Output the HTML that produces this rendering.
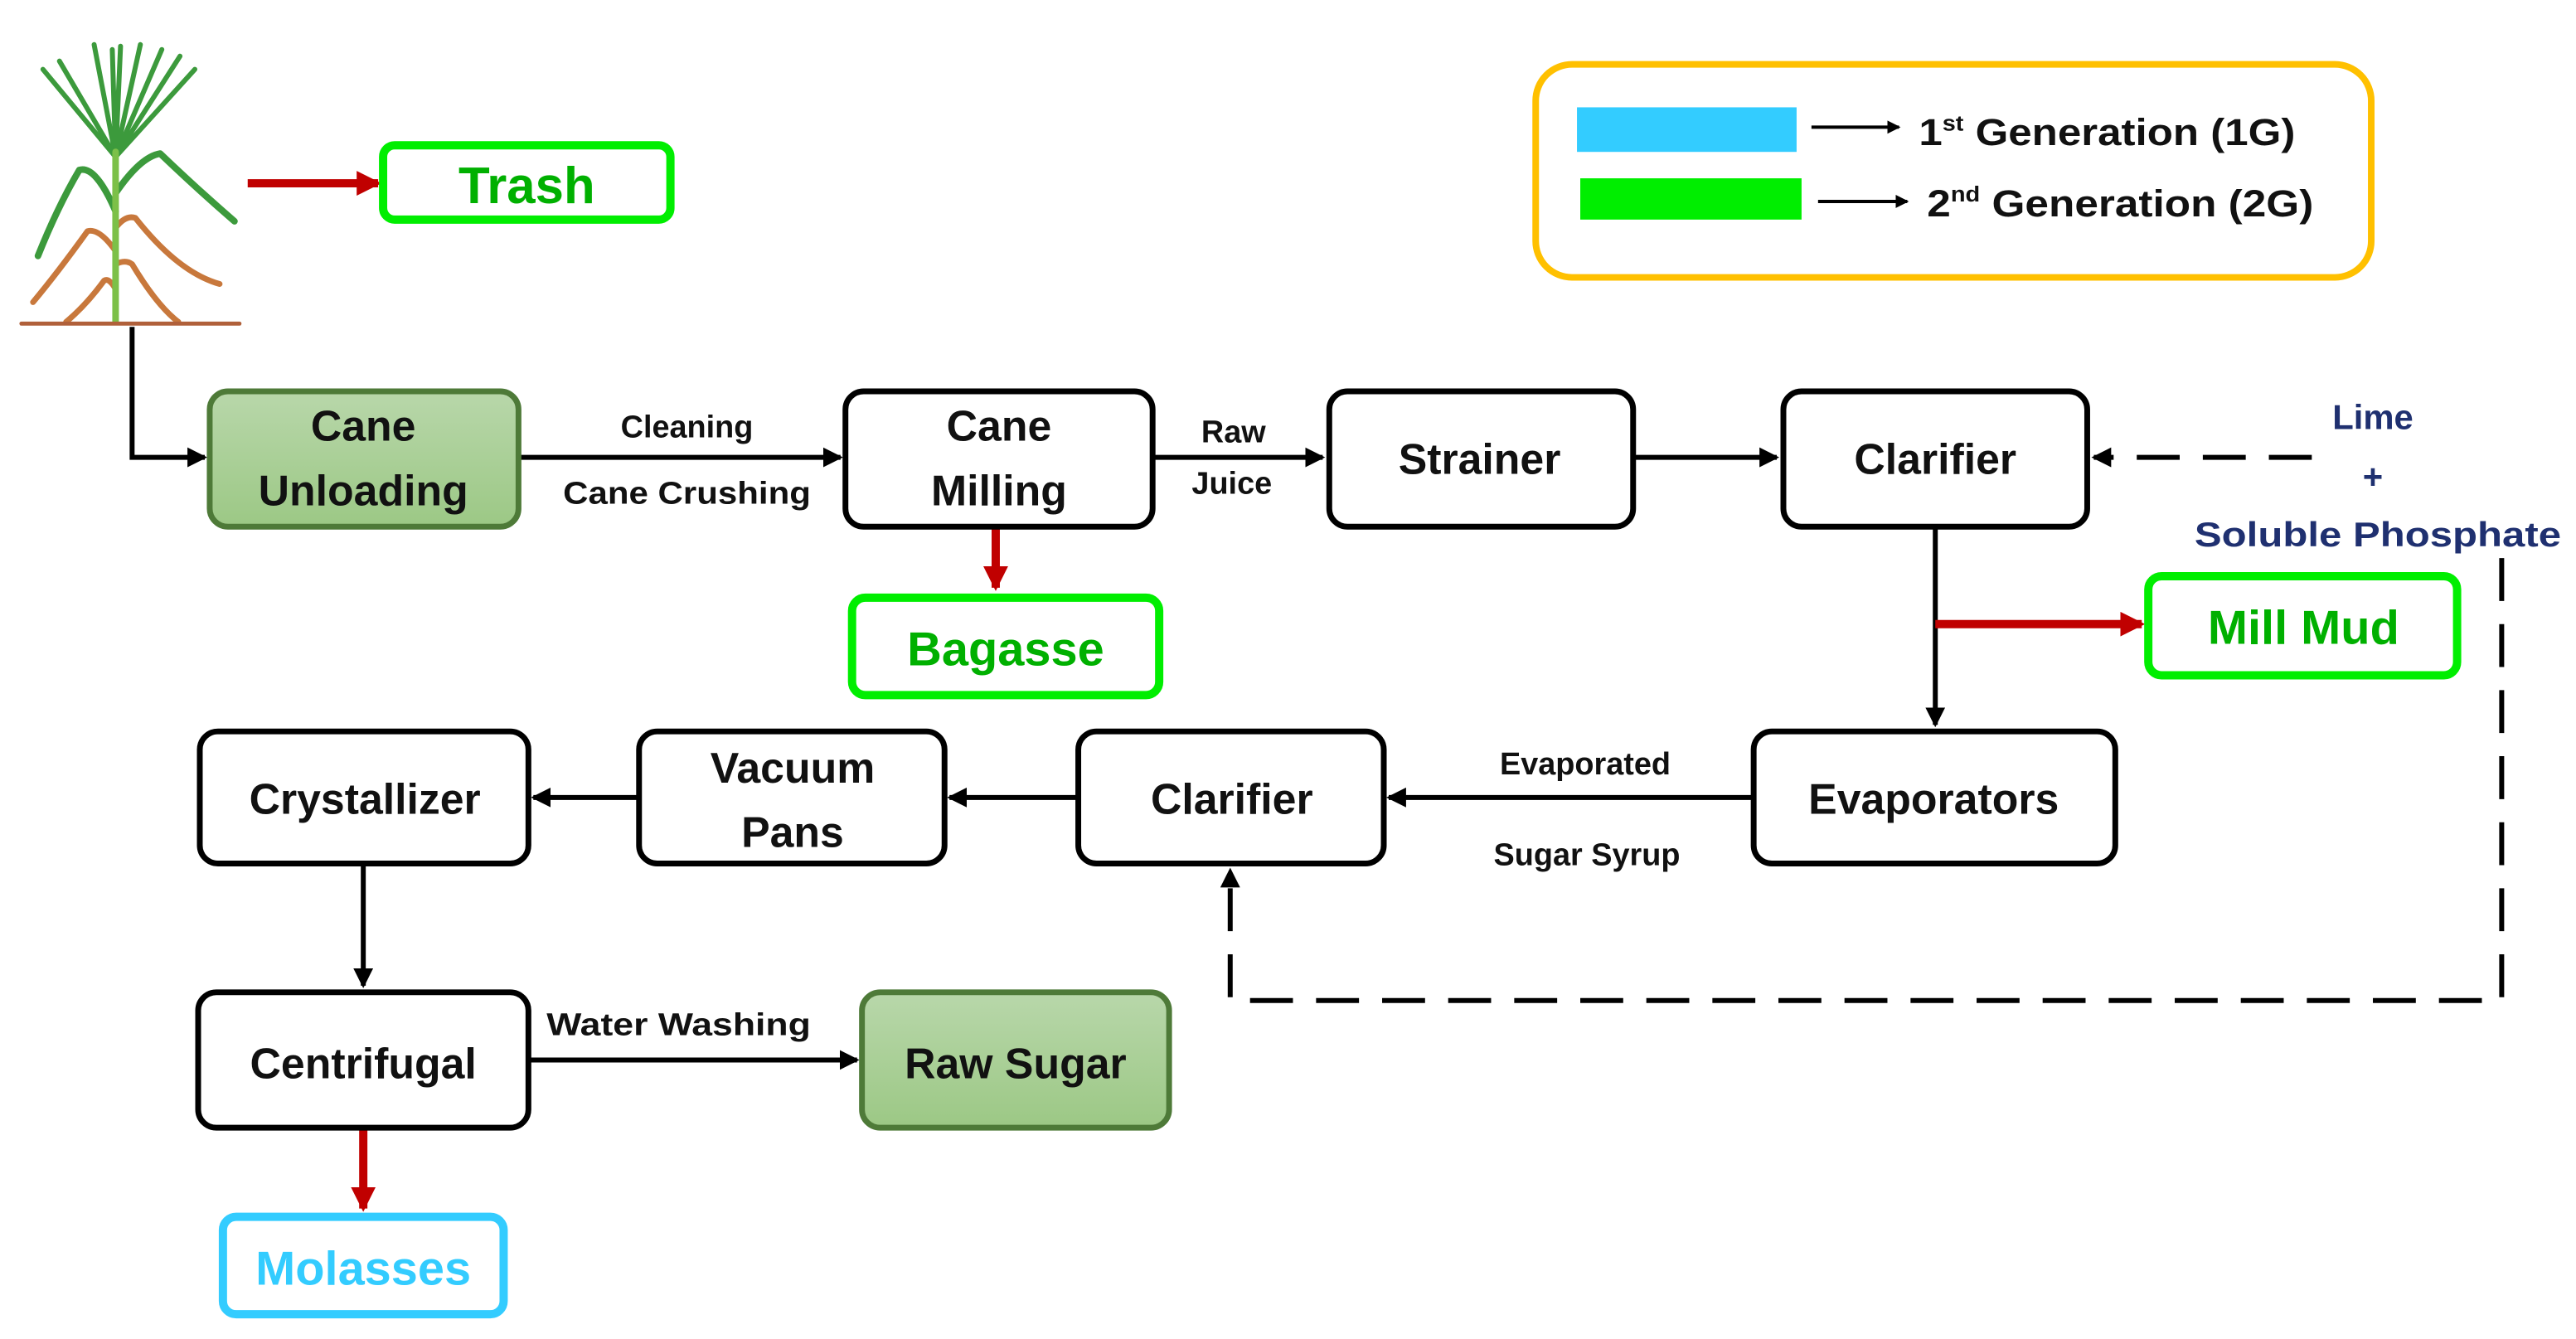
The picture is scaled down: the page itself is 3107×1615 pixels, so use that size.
<!DOCTYPE html>
<html><head><meta charset="utf-8"><style>
html,body{margin:0;padding:0;background:#fff;width:3107px;height:1615px;overflow:hidden}
svg{display:block}
text{font-family:"Liberation Sans",sans-serif;font-weight:bold}
</style></head><body>
<svg width="3107" height="1615" viewBox="0 0 1560 811" preserveAspectRatio="none" xmlns="http://www.w3.org/2000/svg">
<defs>
<marker id="ab" markerWidth="4" markerHeight="4" refX="3.5" refY="2" orient="auto" markerUnits="strokeWidth"><path d="M0,0 L4,2 L0,4 Z" fill="#000"/></marker>
<marker id="ar" markerWidth="3" markerHeight="3" refX="2.6" refY="1.5" orient="auto" markerUnits="strokeWidth"><path d="M0,0 L3,1.5 L0,3 Z" fill="#c00000"/></marker>
<linearGradient id="gg" x1="0" y1="0" x2="0" y2="1"><stop offset="0" stop-color="#b8d7aa"/><stop offset="1" stop-color="#9cc885"/></linearGradient>
</defs>

<!-- plant -->
<g fill="none" stroke-linecap="round" stroke-linejoin="round">
<g stroke="#3c9a3c" stroke-width="3">
<path d="M70,95 L26,42"/><path d="M70,95 L36,37"/><path d="M70,95 L57,27"/><path d="M70,95 L68,30"/><path d="M70,95 L73,28"/><path d="M70,95 L85,27"/><path d="M70,95 L98,30"/><path d="M70,95 L109,34"/><path d="M70,95 L118,42"/>
<path d="M70,128 Q58,100 48,103 Q35,125 23,155" stroke-width="4"/>
<path d="M70,117 Q85,95 97,93 Q120,115 142,134" stroke-width="4"/>
</g>
<g stroke="#c8783c" stroke-width="3.5">
<path d="M70,138 Q76,130 82,132 Q108,165 133,172"/>
<path d="M70,152 Q60,138 53,140 Q35,165 20,183"/>
<path d="M70,160 Q76,157 80,160 Q95,185 108,195"/>
<path d="M70,175 Q66,168 63,170 Q52,185 40,195"/>
</g>
<path d="M70,195 L70,92" stroke="#7cc048" stroke-width="4"/>
<path d="M13,196 L145,196" stroke="#b0603a" stroke-width="2.5"/>
</g>

<!-- trash -->
<line x1="150" y1="111" x2="229" y2="111" stroke="#c00000" stroke-width="5" marker-end="url(#ar)"/>
<rect x="232" y="88" width="174" height="45" rx="7" fill="#fff" stroke="#00ee00" stroke-width="5"/>
<text x="319" y="123" font-size="31" fill="#00b000" text-anchor="middle">Trash</text>

<!-- legend -->
<rect x="930" y="39" width="506" height="129" rx="22" fill="#fff" stroke="#ffc000" stroke-width="4"/>
<rect x="955" y="65" width="133" height="27" fill="#33ccff"/>
<rect x="957" y="108" width="134" height="25" fill="#00ee00"/>
<line x1="1097" y1="77" x2="1150" y2="77" stroke="#000" stroke-width="2" marker-end="url(#ab)"/>
<line x1="1101" y1="122" x2="1155" y2="122" stroke="#000" stroke-width="2" marker-end="url(#ab)"/>
<text x="1162" y="88" font-size="23" fill="#111" textLength="228" lengthAdjust="spacingAndGlyphs">1<tspan font-size="13" dy="-9">st</tspan><tspan dy="9"> Generation (1G)</tspan></text>
<text x="1167" y="131" font-size="23" fill="#111" textLength="234" lengthAdjust="spacingAndGlyphs">2<tspan font-size="13" dy="-9">nd</tspan><tspan dy="9"> Generation (2G)</tspan></text>

<!-- connectors -->
<g stroke="#000" stroke-width="3" fill="none">
<path d="M80,198 L80,277 L124,277" marker-end="url(#ab)"/>
<line x1="314" y1="277" x2="509" y2="277" marker-end="url(#ab)"/>
<line x1="698" y1="277" x2="801" y2="277" marker-end="url(#ab)"/>
<line x1="989" y1="277" x2="1076" y2="277" marker-end="url(#ab)"/>
<path d="M1172,319 L1172,439" marker-end="url(#ab)"/>
<line x1="1062" y1="483" x2="841" y2="483" marker-end="url(#ab)"/>
<line x1="653" y1="483" x2="575" y2="483" marker-end="url(#ab)"/>
<line x1="387" y1="483" x2="323" y2="483" marker-end="url(#ab)"/>
<line x1="220" y1="523" x2="220" y2="597" marker-end="url(#ab)"/>
<line x1="320" y1="642" x2="519" y2="642" marker-end="url(#ab)"/>
<path d="M1400,277 L1268,277" stroke-dasharray="26,14" marker-end="url(#ab)"/>
<path d="M1515,338 L1515,606 L745,606 L745,527" stroke-dasharray="26,14" marker-end="url(#ab)"/>
</g>
<g stroke="#c00000" stroke-width="5">
<line x1="603" y1="319" x2="603" y2="356" marker-end="url(#ar)"/>
<line x1="1172" y1="378" x2="1297" y2="378" marker-end="url(#ar)"/>
<line x1="220" y1="683" x2="220" y2="732" marker-end="url(#ar)"/>
</g>

<!-- connector labels -->
<g font-size="19" fill="#111" text-anchor="middle">
<text x="416" y="265">Cleaning</text>
<text x="416" y="305" textLength="150" lengthAdjust="spacingAndGlyphs">Cane Crushing</text>
<text x="747" y="268">Raw</text>
<text x="746" y="299">Juice</text>
<text x="960" y="469">Evaporated</text>
<text x="961" y="524">Sugar Syrup</text>
<text x="411" y="627" textLength="160" lengthAdjust="spacingAndGlyphs">Water Washing</text>
</g>
<g font-size="21" fill="#1f3070" text-anchor="middle">
<text x="1437" y="260">Lime</text>
<text x="1437" y="296">+</text>
<text x="1440" y="331" textLength="222" lengthAdjust="spacingAndGlyphs">Soluble Phosphate</text>
</g>

<!-- nodes -->
<g stroke-width="3.5">
<rect x="127" y="237" width="187" height="82" rx="11" fill="url(#gg)" stroke="#4e7a38"/>
<rect x="522" y="601" width="186" height="82" rx="11" fill="url(#gg)" stroke="#4e7a38"/>
<g fill="#fff" stroke="#000">
<rect x="512" y="237" width="186" height="82" rx="11"/>
<rect x="805" y="237" width="184" height="82" rx="11"/>
<rect x="1080" y="237" width="184" height="82" rx="11"/>
<rect x="1062" y="443" width="219" height="80" rx="11"/>
<rect x="653" y="443" width="185" height="80" rx="11"/>
<rect x="387" y="443" width="185" height="80" rx="11"/>
<rect x="121" y="443" width="199" height="80" rx="11"/>
<rect x="120" y="601" width="200" height="82" rx="11"/>
</g>
</g>
<rect x="516" y="362" width="186" height="59" rx="8" fill="#fff" stroke="#00ee00" stroke-width="5"/>
<rect x="1301" y="349" width="187" height="60" rx="8" fill="#fff" stroke="#00ee00" stroke-width="5"/>
<rect x="135" y="737" width="170" height="59" rx="8" fill="#fff" stroke="#33ccff" stroke-width="5"/>

<g font-size="26" fill="#111" text-anchor="middle">
<text x="220" y="267">Cane</text>
<text x="220" y="306">Unloading</text>
<text x="605" y="267">Cane</text>
<text x="605" y="306">Milling</text>
<text x="896" y="287">Strainer</text>
<text x="1172" y="287">Clarifier</text>
<text x="1171" y="493">Evaporators</text>
<text x="746" y="493">Clarifier</text>
<text x="480" y="474">Vacuum</text>
<text x="480" y="513">Pans</text>
<text x="221" y="493">Crystallizer</text>
<text x="220" y="653">Centrifugal</text>
<text x="615" y="653">Raw Sugar</text>
</g>
<g font-size="29" text-anchor="middle">
<text x="609" y="403" fill="#00b000">Bagasse</text>
<text x="1395" y="390" fill="#00b000">Mill Mud</text>
<text x="220" y="778" fill="#33ccff">Molasses</text>
</g>
</svg>
</body></html>
